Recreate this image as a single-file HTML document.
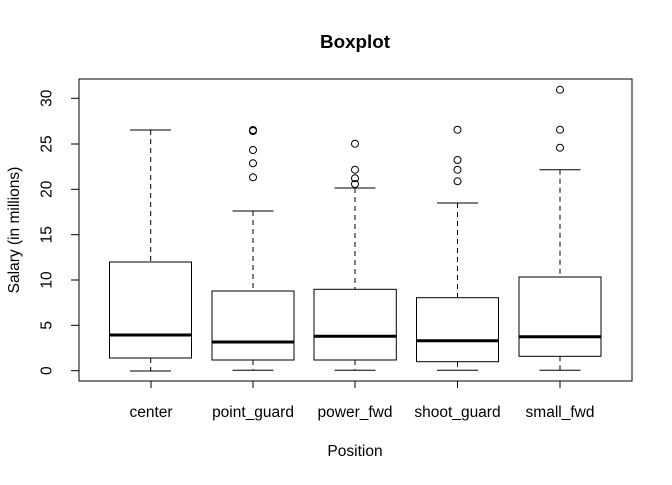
<!DOCTYPE html>
<html><head><meta charset="utf-8"><style>html,body{margin:0;padding:0;background:#fff}</style></head>
<body>
<svg width="672" height="480" xmlns="http://www.w3.org/2000/svg" font-family="Liberation Sans, sans-serif">
<rect width="672" height="480" fill="#fff"/>
<text x="355" y="48" font-size="18.8" font-weight="bold" text-anchor="middle">Boxplot</text>
<rect x="79" y="79" width="553" height="302" fill="none" stroke="#000" stroke-width="1"/>
<g stroke="#000" stroke-width="1">
<line x1="79" y1="98.3" x2="79" y2="370.7"/>
<line x1="71" y1="370.7" x2="79" y2="370.7"/>
<line x1="71" y1="325.3" x2="79" y2="325.3"/>
<line x1="71" y1="280" x2="79" y2="280"/>
<line x1="71" y1="234.7" x2="79" y2="234.7"/>
<line x1="71" y1="189.3" x2="79" y2="189.3"/>
<line x1="71" y1="144" x2="79" y2="144"/>
<line x1="71" y1="98.3" x2="79" y2="98.3"/>
<line x1="151" y1="381" x2="560" y2="381"/>
<line x1="151" y1="381" x2="151" y2="388"/>
<line x1="253" y1="381" x2="253" y2="388"/>
<line x1="355" y1="381" x2="355" y2="388"/>
<line x1="457.5" y1="381" x2="457.5" y2="388"/>
<line x1="560" y1="381" x2="560" y2="388"/>
</g>
<g font-size="15.5" text-anchor="middle">
<text transform="translate(51.5,370.7) rotate(-90)">0</text>
<text transform="translate(51.5,325.3) rotate(-90)">5</text>
<text transform="translate(51.5,280) rotate(-90)">10</text>
<text transform="translate(51.5,234.7) rotate(-90)">15</text>
<text transform="translate(51.5,189.3) rotate(-90)">20</text>
<text transform="translate(51.5,144) rotate(-90)">25</text>
<text transform="translate(51.5,98.3) rotate(-90)">30</text>
<text transform="translate(19,230) rotate(-90)">Salary (in millions)</text>
<text x="151" y="417">center</text>
<text x="253" y="417">point_guard</text>
<text x="355" y="417">power_fwd</text>
<text x="457.5" y="417">shoot_guard</text>
<text x="560" y="417">small_fwd</text>
<text x="355" y="456">Position</text>
</g>
<g stroke="#000" fill="none" stroke-width="1">
<line x1="150.7" y1="130" x2="150.7" y2="262" stroke-dasharray="5,4"/>
<line x1="150.7" y1="358" x2="150.7" y2="371" stroke-dasharray="5,4"/>
<line x1="130" y1="130" x2="171" y2="130"/>
<line x1="130" y1="371" x2="171" y2="371"/>
<rect x="109.5" y="262" width="82" height="96" fill="#fff"/>
<line x1="109.5" y1="335" x2="191.5" y2="335" stroke-width="3"/>
<line x1="253" y1="211" x2="253" y2="291" stroke-dasharray="5,4"/>
<line x1="253" y1="360" x2="253" y2="370.3" stroke-dasharray="5,4"/>
<line x1="232.5" y1="211" x2="273.5" y2="211"/>
<line x1="232.5" y1="370.3" x2="273.5" y2="370.3"/>
<rect x="212" y="291" width="82" height="69" fill="#fff"/>
<line x1="212" y1="342" x2="294" y2="342" stroke-width="3"/>
<circle cx="253" cy="130" r="3.5"/><circle cx="253" cy="131" r="3.5"/>
<circle cx="253" cy="150" r="3.5"/><circle cx="253" cy="163.3" r="3.5"/><circle cx="253" cy="177.3" r="3.5"/>
<line x1="355" y1="188" x2="355" y2="289.3" stroke-dasharray="5,4"/>
<line x1="355" y1="360" x2="355" y2="370.3" stroke-dasharray="5,4"/>
<line x1="334.5" y1="188" x2="375.5" y2="188"/>
<line x1="334.5" y1="370.3" x2="375.5" y2="370.3"/>
<rect x="314" y="289.3" width="82.3" height="70.7" fill="#fff"/>
<line x1="314" y1="336.3" x2="396.3" y2="336.3" stroke-width="3"/>
<circle cx="355" cy="143.7" r="3.5"/><circle cx="355" cy="169.7" r="3.5"/><circle cx="355" cy="178.3" r="3.5"/><circle cx="355" cy="184" r="3.5"/>
<line x1="457.5" y1="203" x2="457.5" y2="297.7" stroke-dasharray="5,4"/>
<line x1="457.5" y1="361.7" x2="457.5" y2="370.3" stroke-dasharray="5,4"/>
<line x1="437" y1="203" x2="478" y2="203"/>
<line x1="437" y1="370.3" x2="478" y2="370.3"/>
<rect x="416.5" y="297.7" width="82" height="64" fill="#fff"/>
<line x1="416.5" y1="340.7" x2="498.5" y2="340.7" stroke-width="3"/>
<circle cx="457.5" cy="129.7" r="3.5"/><circle cx="457.5" cy="160" r="3.5"/><circle cx="457.5" cy="169.7" r="3.5"/><circle cx="457.5" cy="181.3" r="3.5"/>
<line x1="560" y1="169.7" x2="560" y2="277" stroke-dasharray="5,4"/>
<line x1="560" y1="356.3" x2="560" y2="370.3" stroke-dasharray="5,4"/>
<line x1="539.5" y1="169.7" x2="580.5" y2="169.7"/>
<line x1="539.5" y1="370.3" x2="580.5" y2="370.3"/>
<rect x="519" y="277" width="82" height="79.3" fill="#fff"/>
<line x1="519" y1="336.7" x2="601" y2="336.7" stroke-width="3"/>
<circle cx="560" cy="89.7" r="3.5"/><circle cx="560" cy="129.7" r="3.5"/><circle cx="560" cy="147.7" r="3.5"/>
</g>
</svg>
</body></html>
